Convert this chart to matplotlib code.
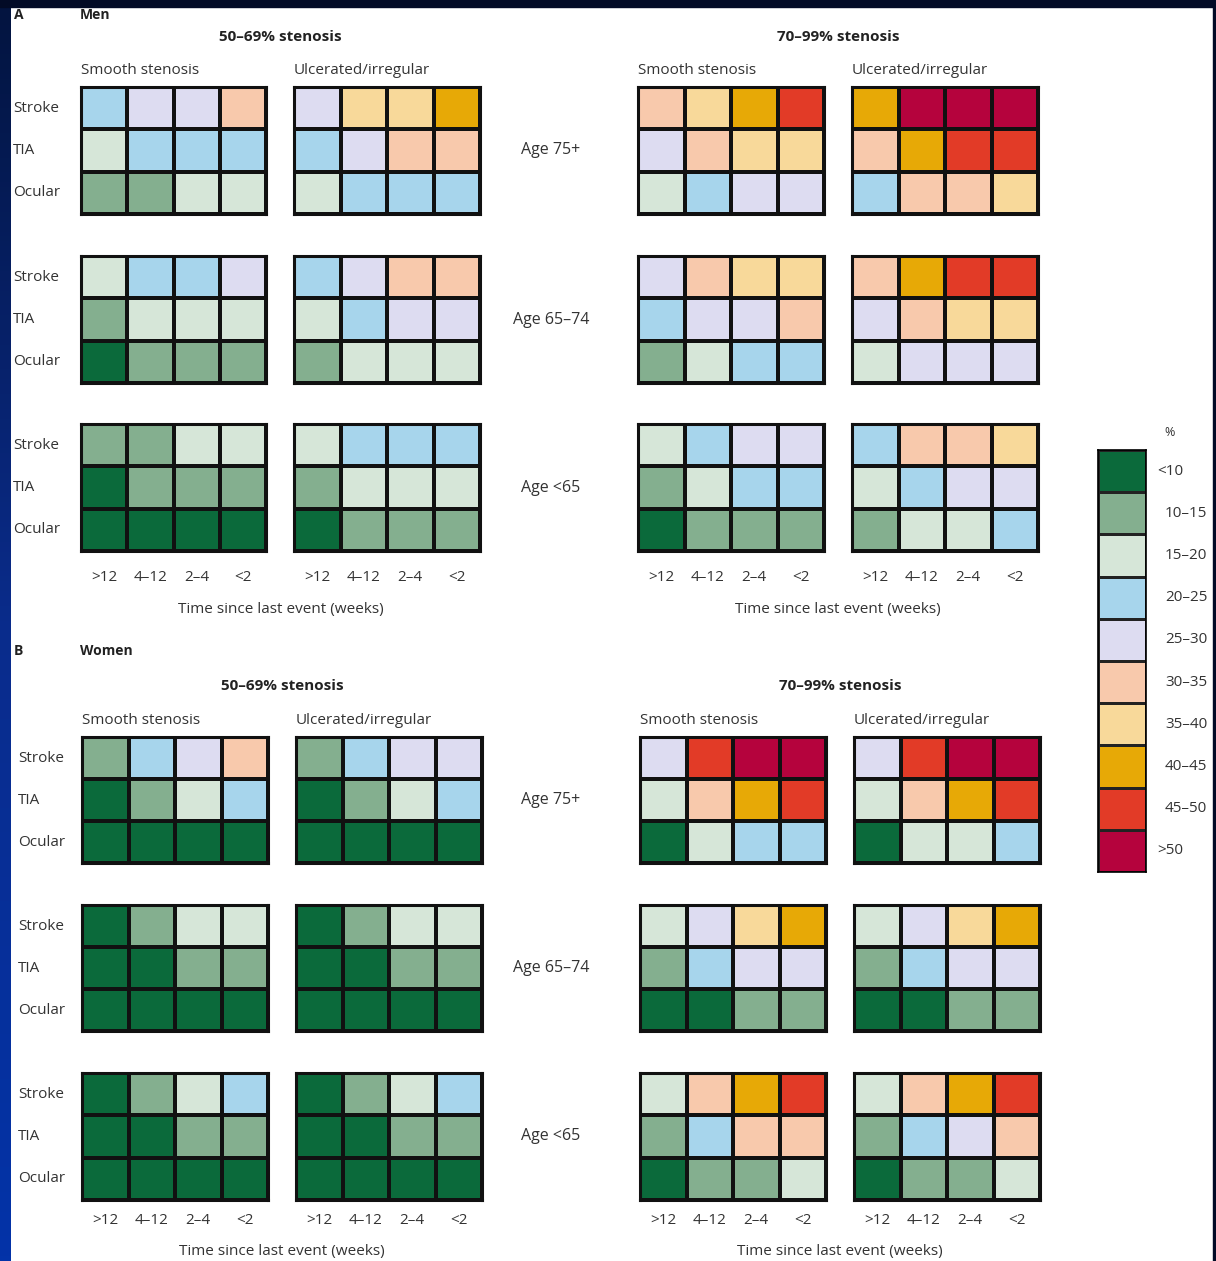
import numpy as np
import matplotlib
matplotlib.use("Agg")
import matplotlib.pyplot as plt
from matplotlib.colors import ListedColormap, BoundaryNorm

plt.rcParams['font.family'] = ['Open Sans', 'DejaVu Sans']

# risk bands (%), one colour per band
band_labels = ['<10', '10–15', '15–20', '20–25', '25–30', '30–35', '35–40', '40–45', '45–50', '>50']
band_colors = ['#0b6a3b', '#84af8f', '#d6e6d8', '#a7d5ec', '#dddcf1',
               '#f8c9ac', '#f8d99a', '#e7a906', '#e23b27', '#b5033d']

row_labels = ['Stroke', 'TIA', 'Ocular']
time_labels = ['>12', '4–12', '2–4', '<2']
age_labels = ['Age 75+', 'Age 65–74', 'Age <65']

# band index per cell: rows = Stroke, TIA, Ocular ; cols = >12, 4-12, 2-4, <2 weeks
# Men
men_75_mod_smooth = [[3, 4, 4, 5], [2, 3, 3, 3], [1, 1, 2, 2]]
men_75_mod_ulcer = [[4, 6, 6, 7], [3, 4, 5, 5], [2, 3, 3, 3]]
men_75_sev_smooth = [[5, 6, 7, 8], [4, 5, 6, 6], [2, 3, 4, 4]]
men_75_sev_ulcer = [[7, 9, 9, 9], [5, 7, 8, 8], [3, 5, 5, 6]]

men_65_mod_smooth = [[2, 3, 3, 4], [1, 2, 2, 2], [0, 1, 1, 1]]
men_65_mod_ulcer = [[3, 4, 5, 5], [2, 3, 4, 4], [1, 2, 2, 2]]
men_65_sev_smooth = [[4, 5, 6, 6], [3, 4, 4, 5], [1, 2, 3, 3]]
men_65_sev_ulcer = [[5, 7, 8, 8], [4, 5, 6, 6], [2, 4, 4, 4]]

men_u65_mod_smooth = [[1, 1, 2, 2], [0, 1, 1, 1], [0, 0, 0, 0]]
men_u65_mod_ulcer = [[2, 3, 3, 3], [1, 2, 2, 2], [0, 1, 1, 1]]
men_u65_sev_smooth = [[2, 3, 4, 4], [1, 2, 3, 3], [0, 1, 1, 1]]
men_u65_sev_ulcer = [[3, 5, 5, 6], [2, 3, 4, 4], [1, 2, 2, 3]]

# Women
women_75_mod_smooth = [[1, 3, 4, 5], [0, 1, 2, 3], [0, 0, 0, 0]]
women_75_mod_ulcer = [[1, 3, 4, 4], [0, 1, 2, 3], [0, 0, 0, 0]]
women_75_sev_smooth = [[4, 8, 9, 9], [2, 5, 7, 8], [0, 2, 3, 3]]
women_75_sev_ulcer = [[4, 8, 9, 9], [2, 5, 7, 8], [0, 2, 2, 3]]

women_65_mod_smooth = [[0, 1, 2, 2], [0, 0, 1, 1], [0, 0, 0, 0]]
women_65_mod_ulcer = [[0, 1, 2, 2], [0, 0, 1, 1], [0, 0, 0, 0]]
women_65_sev_smooth = [[2, 4, 6, 7], [1, 3, 4, 4], [0, 0, 1, 1]]
women_65_sev_ulcer = [[2, 4, 6, 7], [1, 3, 4, 4], [0, 0, 1, 1]]

women_u65_mod_smooth = [[0, 1, 2, 3], [0, 0, 1, 1], [0, 0, 0, 0]]
women_u65_mod_ulcer = [[0, 1, 2, 3], [0, 0, 1, 1], [0, 0, 0, 0]]
women_u65_sev_smooth = [[2, 5, 7, 8], [1, 3, 5, 5], [0, 1, 1, 2]]
women_u65_sev_ulcer = [[2, 5, 7, 8], [1, 3, 4, 5], [0, 1, 1, 2]]

men_panels = [
    [men_75_mod_smooth, men_75_mod_ulcer, men_75_sev_smooth, men_75_sev_ulcer],
    [men_65_mod_smooth, men_65_mod_ulcer, men_65_sev_smooth, men_65_sev_ulcer],
    [men_u65_mod_smooth, men_u65_mod_ulcer, men_u65_sev_smooth, men_u65_sev_ulcer],
]
women_panels = [
    [women_75_mod_smooth, women_75_mod_ulcer, women_75_sev_smooth, women_75_sev_ulcer],
    [women_65_mod_smooth, women_65_mod_ulcer, women_65_sev_smooth, women_65_sev_ulcer],
    [women_u65_mod_smooth, women_u65_mod_ulcer, women_u65_sev_smooth, women_u65_sev_ulcer],
]

W, H = 1216, 1261
fig = plt.figure(figsize=(W / 100, H / 100), dpi=100)
fig.patch.set_facecolor('white')

cmap = ListedColormap(band_colors)
norm = BoundaryNorm(np.arange(-0.5, 10.5, 1), cmap.N)
TXT = '#333333'


def px_axes(x0, y0, x1, y1):
    # pixel box (top-left origin) -> figure axes
    return fig.add_axes([x0 / W, 1 - y1 / H, (x1 - x0) / W, (y1 - y0) / H])


def ftext(x, y, s, **kw):
    kw.setdefault('color', TXT)
    kw.setdefault('va', 'center')
    fig.text(x / W, 1 - y / H, s, **kw)


# frame: dark band on top, blue band on left, thin dark strip on right
bg = fig.add_axes([0, 0, 1, 1], zorder=-10)
bg.set_xlim(0, W)
bg.set_ylim(H, 0)
bg.axis('off')
grad = np.linspace(0, 1, 256).reshape(-1, 1)
from matplotlib.colors import LinearSegmentedColormap
side = LinearSegmentedColormap.from_list('side', ['#03143f', '#0a2c8c', '#0333a8'])
bg.imshow(grad, cmap=side, extent=[0, 11, H, 0], aspect='auto')
bg.add_patch(plt.Rectangle((0, 0), W, 7, color='#020b26'))
bg.add_patch(plt.Rectangle((1213, 0), 3, H, color='#020b26'))


def heatmap(x0, y0, x1, y1, grid):
    ax = px_axes(x0, y0, x1, y1)
    ax.pcolormesh(np.array(grid), cmap=cmap, norm=norm, edgecolors='#111111', linewidth=1.6)
    ax.set_xlim(0, 4)
    ax.set_ylim(3, 0)
    ax.set_xticks([])
    ax.set_yticks([])
    for sp in ax.spines.values():
        sp.set_linewidth(2.2)
        sp.set_color('#111111')
    return ax


def block(panels, col_x, row_y, label_x, tick_y, title_y, head_y, sub_y, sex_y, letter, sex):
    ftext(14, sex_y, letter, fontsize=10, fontweight='bold', color='#222222')
    ftext(80, sex_y, sex, fontsize=10, fontweight='bold', color='#222222')
    for k, head in enumerate(['50–69% stenosis', '70–99% stenosis']):
        xa = col_x[2 * k][0]
        xb = col_x[2 * k + 1][1]
        ftext((xa + xb) / 2, head_y, head, fontsize=11, fontweight='bold', ha='center', color='#222222')
        ftext(xa, sub_y, 'Smooth stenosis', fontsize=11, ha='left')
        ftext(col_x[2 * k + 1][0], sub_y, 'Ulcerated/irregular', fontsize=11, ha='left')
        ftext((xa + xb) / 2, title_y, 'Time since last event (weeks)', fontsize=11, ha='center')
    for r, (y0, y1) in enumerate(row_y):
        for c, (x0, x1) in enumerate(col_x):
            heatmap(x0, y0, x1, y1, panels[r][c])
        for i, lab in enumerate(row_labels):
            ftext(label_x, y0 + (y1 - y0) * (i + 0.5) / 3, lab, fontsize=11, ha='left')
        ftext(551, (y0 + y1) / 2, age_labels[r], fontsize=11.5, ha='center')
    for x0, x1 in col_x:
        for j, lab in enumerate(time_labels):
            ftext(x0 + (x1 - x0) * (j + 0.5) / 4, tick_y, lab, fontsize=11, ha='center')


block(men_panels,
      col_x=[(81, 266), (294, 480), (638, 824), (852, 1038)],
      row_y=[(87, 214), (256, 383), (424, 551)],
      label_x=13, tick_y=578, title_y=609, head_y=37, sub_y=70, sex_y=15,
      letter='A', sex='Men')

block(women_panels,
      col_x=[(82, 268), (296, 482), (640, 826), (854, 1040)],
      row_y=[(737, 863), (905, 1031), (1073, 1200)],
      label_x=18, tick_y=1220, title_y=1251, head_y=686, sub_y=720, sex_y=651,
      letter='B', sex='Women')

# legend bar
cb = px_axes(1098, 450, 1146, 872)
cb.pcolormesh(np.arange(10).reshape(-1, 1), cmap=cmap, norm=norm, edgecolors='#222222', linewidth=1.0)
cb.set_xlim(0, 1)
cb.set_ylim(10, 0)
cb.set_xticks([])
cb.set_yticks([])
for sp in cb.spines.values():
    sp.set_linewidth(1.2)
ftext(1170, 432, '%', fontsize=9, ha='center')
for i, lab in enumerate(band_labels):
    x = 1157 if i in (0, 9) else 1165
    ftext(x, 450 + 42.2 * (i + 0.5), lab, fontsize=11, ha='left')

fig.savefig('out.png', dpi=100, facecolor=fig.get_facecolor())
